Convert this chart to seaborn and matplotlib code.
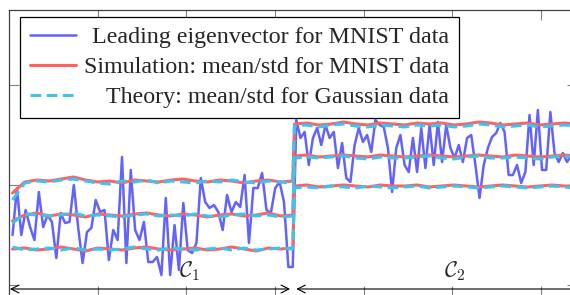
import numpy as np
import pandas as pd
import seaborn as sns
import matplotlib.pyplot as plt

# values, in units of 1e-3
eig_c1 = [-50, -3, -50, -25, -42, -55, -7, -42, -30, -37, -73, -28, -38, -37, 0, -43,
          -78, -47, -43, -15, -27, -25, -75, -45, -55, 28, -78, 15, -45, -55, -37, -77,
          -77, -72, -90, -13, -90, -40, -85, -18, -65, -68, -58, 7, -17, -23, -20, -27,
          -45, -10, -27, -17, -22, 10, -58, -3, -3, 12, -25, -28, -3, 3, -17, -82, -82]
eig_c2 = [65, 47, 53, 20, 47, 57, 40, 60, 47, 53, 17, 42, 7, 3, 40, 57,
          43, 50, 33, 65, 60, 58, 37, -7, 37, 50, 20, 13, 47, 13, 57, 17,
          60, 20, 63, 23, 60, 37, 27, 40, 23, 47, 50, 20, -13, 20, 37, 48,
          52, 62, 53, 10, 10, 20, 2, 13, 70, 20, 75, 15, 15, 73, 32, 23, 32, 23, 30]

sim_up = [-8, 3, 5, 4, 6, 8, 5, 3, 4, 2, 5, 4, 3, 5, 6, 4, 3, 5, 4, 2, 4, 5, 3, 4,
          61, 62, 60, 61, 63, 61, 60, 62, 61, 60, 62, 61, 62, 60, 61, 63, 62, 60, 61, 62, 60, 61, 62, 61]
sim_mean = [-36, -30, -28, -31, -29, -30, -32, -29, -30, -31, -29, -28, -30, -31, -29, -30, -32, -30, -29, -31, -30, -28, -31, -30,
            29, 30, 28, 29, 30, 29, 28, 30, 29, 28, 29, 30, 29, 28, 29, 30, 29, 28, 30, 29, 28, 29, 30, 29]
sim_low = [-64, -63, -65, -64, -62, -64, -66, -63, -64, -65, -63, -62, -64, -65, -64, -63, -65, -64, -62, -64, -66, -63, -64, -63,
           -1, 0, -2, -1, 0, -1, -2, 0, -1, -1, 0, -2, -1, 0, -1, -2, -1, 0, -1, -2, -1, 0, -1, -1]

th_up = [-15, 2, 4, 3, 5, 6, 4, 2, 1, 4, 3, 5, 2, 4, 3, 2, 4, 3, 5, 3, 2, 4, 3, 2,
         59, 60, 58, 60, 61, 59, 58, 60, 59, 58, 60, 59, 60, 58, 59, 61, 60, 58, 59, 60, 58, 59, 60, 59]
th_mean = [-38, -29, -30, -31, -30, -28, -31, -30, -31, -32, -30, -29, -31, -30, -31, -29, -31, -32, -30, -29, -31, -30, -32, -31,
           27, 28, 27, 28, 29, 27, 26, 28, 27, 27, 28, 29, 27, 26, 28, 29, 27, 27, 28, 27, 26, 28, 29, 27]
th_low = [-62, -65, -64, -63, -65, -63, -65, -64, -65, -64, -62, -64, -65, -63, -64, -65, -64, -63, -65, -63, -65, -64, -63, -64,
          -3, -2, -3, -1, -2, -3, -1, -2, -3, -2, -1, -3, -2, -1, -2, -3, -2, -1, -2, -3, -2, -1, -2, -3]

labels = ['Leading eigenvector for MNIST data',
          'Simulation: mean/std for MNIST data',
          'Theory: mean/std for Gaussian data']

BLUE, RED, CYAN = '#6262ff', '#ff6262', '#3cc4ee'

sns.set_style('ticks')
plt.rcParams['mathtext.fontset'] = 'cm'

x_eig = np.concatenate([np.linspace(2, 160, len(eig_c1)), np.linspace(162, 317, len(eig_c2))])
y_eig = np.array(eig_c1 + eig_c2) / 1000
x_band = np.concatenate([np.linspace(2, 160, 24), np.linspace(161, 320, 24)])

fig = plt.figure(figsize=(5.7, 2.95), dpi=100)
ax = fig.add_axes([9 / 570, -1 / 295, 567.5 / 570, 286 / 295])

sns.lineplot(x=x_eig, y=y_eig, ax=ax, color=BLUE, lw=1.8, sort=False, label=labels[0])
for i, band in enumerate([sim_up, sim_mean, sim_low]):
    sns.lineplot(x=x_band, y=np.array(band) / 1000, ax=ax, color=RED, lw=2.2, sort=False,
                 label=labels[1] if i == 0 else None)
for i, band in enumerate([th_up, th_mean, th_low]):
    sns.lineplot(x=x_band, y=np.array(band) / 1000, ax=ax, color=CYAN, lw=2.2, sort=False,
                 dashes=False, linestyle=(0, (3.5, 1.8)), label=labels[2] if i == 0 else None)

ax.set_xlim(0, 320)
ax.set_ylim(-0.111, 0.175)
ax.set_xticks(np.arange(50, 301, 50))
ax.set_yticks([-0.1, 0, 0.1])
ax.tick_params(direction='in', length=7, width=0.8, color='0.5', top=True, right=True,
               labelbottom=False, labelleft=False)
for s in ax.spines.values():
    s.set_linewidth(0.9)
    s.set_color('0.25')
ax.set_xlabel('')
ax.set_ylabel('')

# class ranges
arrow = dict(arrowstyle='<->', lw=0.8, color='black', shrinkA=0, shrinkB=0, mutation_scale=14)
ax.annotate('', xy=(0.5, -0.104), xytext=(158.5, -0.104), arrowprops=arrow)
ax.annotate('', xy=(162, -0.104), xytext=(322, -0.104), arrowprops=arrow)
ax.text(102, -0.086, r'$\mathcal{C}_1$', fontsize=16, ha='center', va='center')
ax.text(251.5, -0.086, r'$\mathcal{C}_2$', fontsize=16, ha='center', va='center')

leg = ax.legend(loc='upper left', bbox_to_anchor=(11 / 567.5, 1 - 7 / 286), borderaxespad=0,
                prop={'family': 'Liberation Serif', 'size': 17.3}, fancybox=False, framealpha=1,
                edgecolor='black', handlelength=1.95, handletextpad=0.3, labelspacing=0.33,
                borderpad=0.4)
leg.get_frame().set_linewidth(0.9)
fig.canvas.draw()
renderer = fig.canvas.get_renderer()
widths = [t.get_window_extent(renderer).width for t in leg.get_texts()]
shift = max(widths)
for t, w in zip(leg.get_texts(), widths):
    t.set_position((shift - w, 0))

fig.savefig('out.png', dpi=100)
